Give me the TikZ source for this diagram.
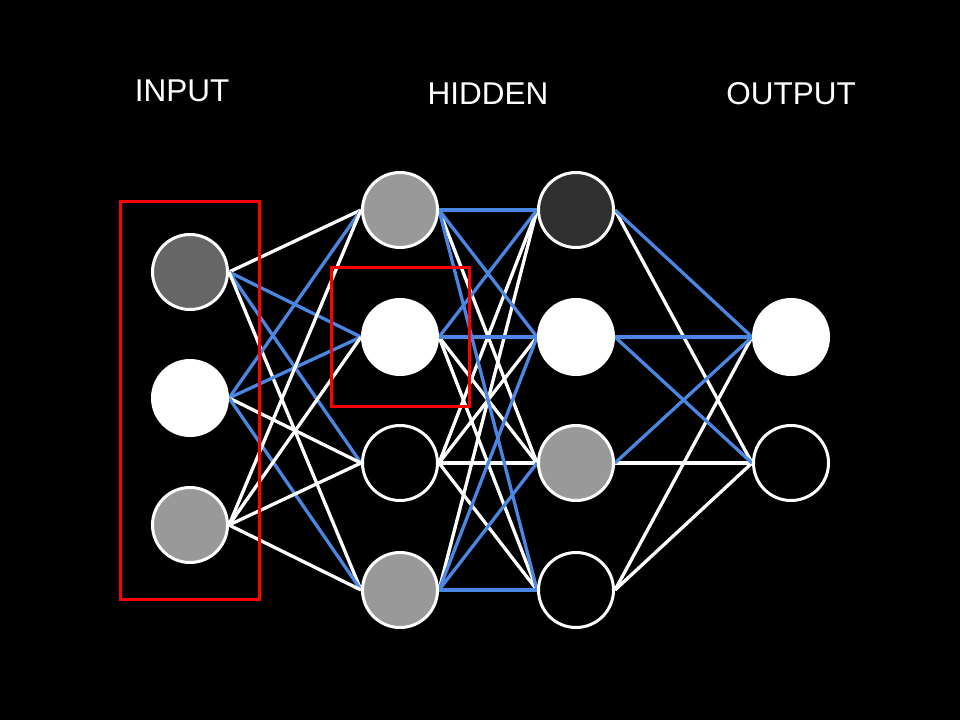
\documentclass[tikz,border=0pt]{standalone}
\usepackage{fontspec}
\setmainfont{Liberation Sans}
\usepackage{tikz}
\usetikzlibrary{positioning}
\usetikzlibrary{backgrounds}
\definecolor{mblue}{rgb}{0.29, 0.53, 0.89}
\definecolor{mred}{rgb}{1, 0, 0}
\definecolor{mdark}{rgb}{0.19, 0.19, 0.19}
\definecolor{mgrey}{rgb}{0.4, 0.4, 0.4}
\definecolor{mlight}{rgb}{0.6, 0.6, 0.6}
\tikzset{neuron/.style = {circle, draw = white, line width = 3pt,
                          minimum size = 75pt, inner sep = 0pt},
         wline/.style = {white, line width = 3.3pt},
         bline/.style = {mblue, line width = 3.3pt},
         redbox/.style = {draw = mred, line width = 3pt},
         title/.style = {white, font = \fontsize{31.5}{31.5}\selectfont}}

\begin{document}
\begin{tikzpicture}[x = 1pt, y = -1pt]
      \useasboundingbox (0, 0) rectangle (960, 720);
      % titles
      \node [title] (tin) at (182, 91) {INPUT};
      \node [title] (thid) at (488, 94) {HIDDEN};
      \node [title] (tout) at (791, 94) {OUTPUT};
      % neurons
      \node [neuron, fill = mgrey] (i1) at (190, 272) {};
      \node [neuron, fill = white] (i2) at (190, 398) {};
      \node [neuron, fill = mlight] (i3) at (190, 525) {};
      \node [neuron, fill = mlight] (h1) at (400, 210) {};
      \node [neuron, fill = white] (h2) at (400, 337) {};
      \node [neuron, fill = black] (h3) at (400, 463) {};
      \node [neuron, fill = mlight] (h4) at (400, 590) {};
      \node [neuron, fill = mdark] (g1) at (576, 210) {};
      \node [neuron, fill = white] (g2) at (576, 337) {};
      \node [neuron, fill = mlight] (g3) at (576, 463) {};
      \node [neuron, fill = black] (g4) at (576, 590) {};
      \node [neuron, fill = white] (o1) at (791, 337) {};
      \node [neuron, fill = black] (o2) at (791, 463) {};
      \begin{pgfonlayer}{background}
        \fill [black] (0, 0) rectangle (960, 720);
        % input to hidden
        \draw [wline] (i1.east) -- (h1.west);
        \draw [bline] (i1.east) -- (h2.west);
        \draw [bline] (i1.east) -- (h3.west);
        \draw [wline] (i1.east) -- (h4.west);
        \draw [bline] (i2.east) -- (h1.west);
        \draw [bline] (i2.east) -- (h2.west);
        \draw [wline] (i2.east) -- (h3.west);
        \draw [bline] (i2.east) -- (h4.west);
        \draw [wline] (i3.east) -- (h1.west);
        \draw [wline] (i3.east) -- (h2.west);
        \draw [wline] (i3.east) -- (h3.west);
        \draw [wline] (i3.east) -- (h4.west);
        % hidden to hidden
        \draw [wline] (h1.east) -- (g3.west);
        \draw [wline] (h2.east) -- (g3.west);
        \draw [wline] (h2.east) -- (g4.west);
        \draw [wline] (h3.east) -- (g1.west);
        \draw [wline] (h3.east) -- (g2.west);
        \draw [wline] (h3.east) -- (g3.west);
        \draw [wline] (h3.east) -- (g4.west);
        \draw [wline] (h4.east) -- (g1.west);
        \draw [bline] (h1.east) -- (g1.west);
        \draw [bline] (h1.east) -- (g2.west);
        \draw [bline] (h1.east) -- (g4.west);
        \draw [bline] (h2.east) -- (g1.west);
        \draw [bline] (h2.east) -- (g2.west);
        \draw [bline] (h4.east) -- (g2.west);
        \draw [bline] (h4.east) -- (g3.west);
        \draw [bline] (h4.east) -- (g4.west);
        % hidden to output
        \draw [wline] (g1.east) -- (o2.west);
        \draw [wline] (g3.east) -- (o2.west);
        \draw [wline] (g4.east) -- (o1.west);
        \draw [wline] (g4.east) -- (o2.west);
        \draw [bline] (g1.east) -- (o1.west);
        \draw [bline] (g2.east) -- (o1.west);
        \draw [bline] (g2.east) -- (o2.west);
        \draw [bline] (g3.east) -- (o1.west);
      \end{pgfonlayer}
      % highlight boxes
      \draw [redbox] (120, 201) rectangle (259, 599);
      \draw [redbox] (331, 267) rectangle (469, 406);
    \end{tikzpicture}
\end{document}
